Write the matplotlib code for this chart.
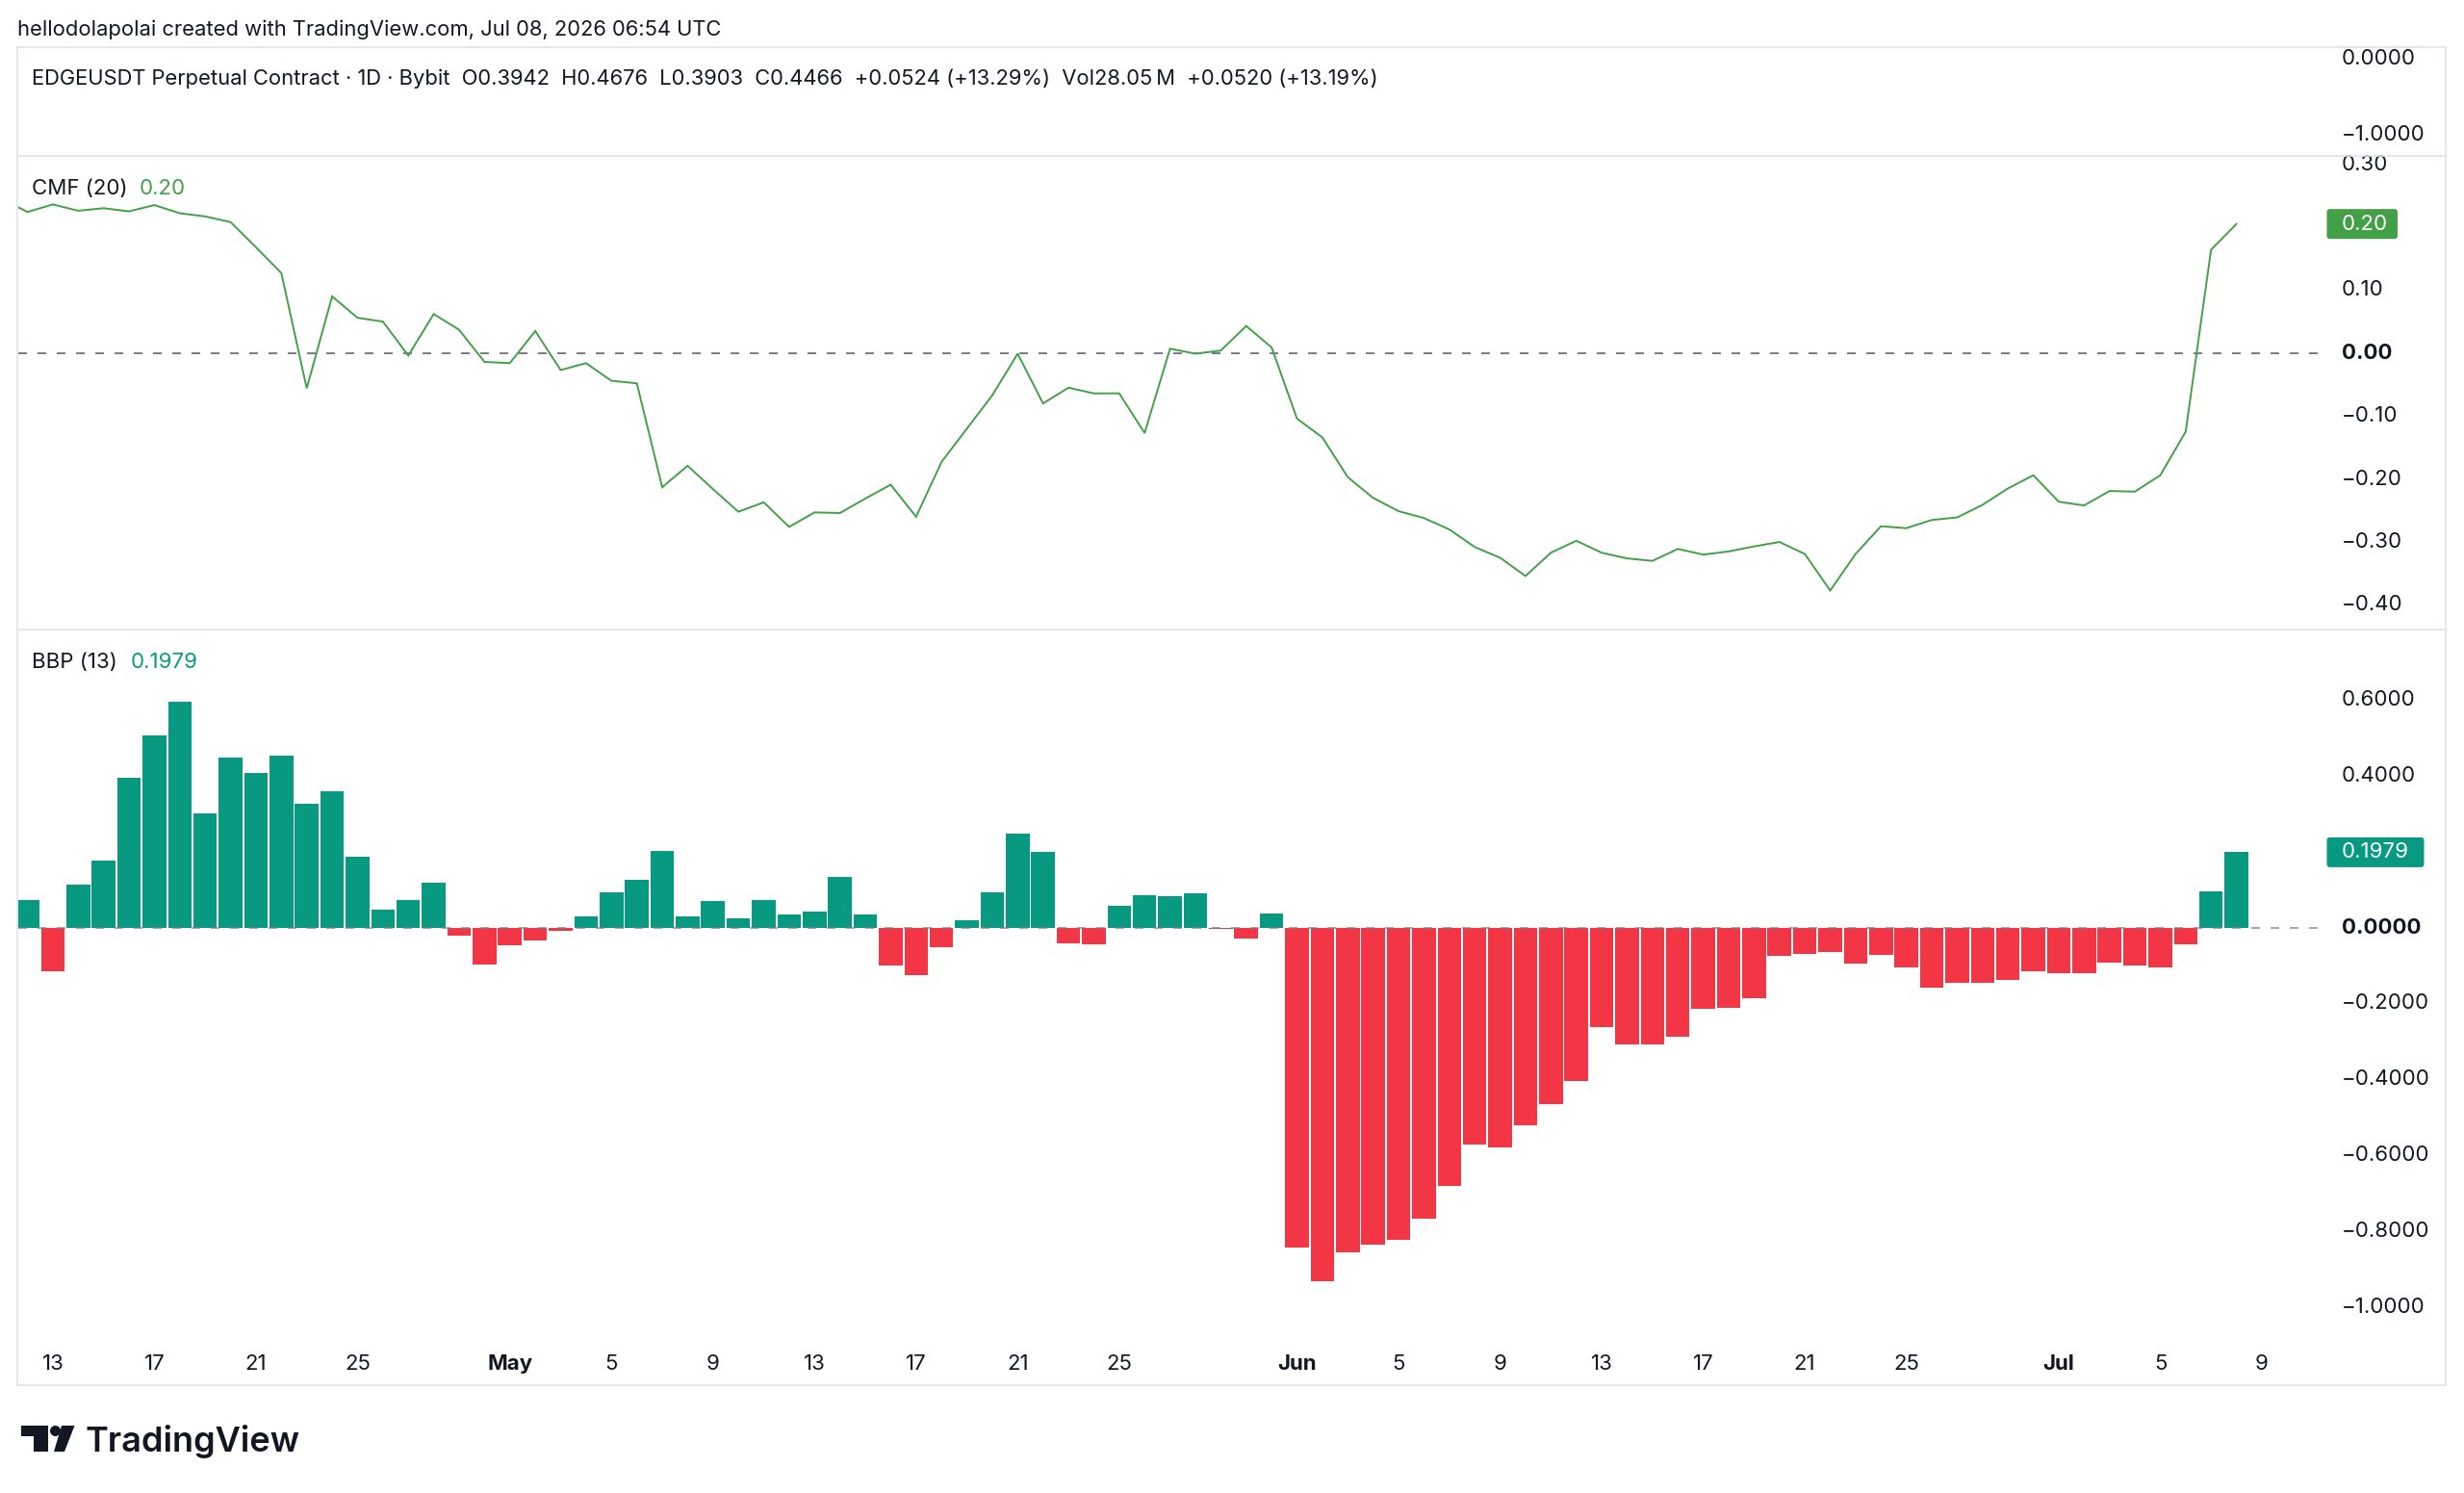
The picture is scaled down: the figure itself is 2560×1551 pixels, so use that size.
import pandas as pd
import matplotlib
matplotlib.use('Agg')
import matplotlib.pyplot as plt
import matplotlib.dates as mdates
import matplotlib.transforms as mtransforms
from matplotlib.patches import Polygon, Circle, FancyBboxPatch
from matplotlib.lines import Line2D

# CMF (20) daily values, Apr 11 - Jul 8 2026
cmf_start = '2026-04-11'
cmf = [0.245, 0.224, 0.236, 0.226, 0.230, 0.225, 0.235, 0.222, 0.217, 0.208,
       0.168, 0.127, -0.056, 0.090, 0.056, 0.050, -0.004, 0.062, 0.037, -0.014,
       -0.016, 0.035, -0.027, -0.016, -0.044, -0.048, -0.213, -0.179, -0.216, -0.252,
       -0.237, -0.276, -0.253, -0.254, -0.231, -0.209, -0.260, -0.173, -0.120, -0.067,
       -0.001, -0.080, -0.055, -0.064, -0.064, -0.127, 0.007, -0.001, 0.004, 0.043,
       0.009, -0.104, -0.134, -0.197, -0.230, -0.251, -0.262, -0.280, -0.308, -0.325,
       -0.354, -0.317, -0.298, -0.317, -0.326, -0.330, -0.311, -0.320, -0.315, -0.307,
       -0.300, -0.319, -0.377, -0.319, -0.275, -0.278, -0.265, -0.261, -0.241, -0.215,
       -0.194, -0.236, -0.242, -0.219, -0.220, -0.194, -0.125, 0.164, 0.205]

# BBP (13) daily values, Apr 12 - Jul 8 2026
bbp_start = '2026-04-12'
bbp = [0.072, -0.114, 0.114, 0.175, 0.393, 0.505, 0.593, 0.299, 0.446, 0.406,
       0.451, 0.325, 0.358, 0.187, 0.048, 0.072, 0.119, -0.021, -0.098, -0.046,
       -0.035, -0.010, 0.030, 0.092, 0.126, 0.202, 0.028, 0.069, 0.023, 0.072,
       0.034, 0.041, 0.133, 0.033, -0.101, -0.125, -0.053, 0.018, 0.092, 0.246,
       0.199, -0.042, -0.045, 0.057, 0.085, 0.082, 0.091, -0.004, -0.030, 0.038,
       -0.842, -0.931, -0.856, -0.834, -0.823, -0.766, -0.680, -0.570, -0.579, -0.520,
       -0.464, -0.404, -0.261, -0.307, -0.309, -0.288, -0.213, -0.211, -0.185, -0.075,
       -0.070, -0.064, -0.095, -0.073, -0.105, -0.159, -0.145, -0.145, -0.138, -0.116,
       -0.120, -0.120, -0.092, -0.099, -0.105, -0.045, 0.095, 0.1979]

tick_dates = ['2026-04-13', '2026-04-17', '2026-04-21', '2026-04-25', '2026-05-01',
              '2026-05-05', '2026-05-09', '2026-05-13', '2026-05-17', '2026-05-21',
              '2026-05-25', '2026-06-01', '2026-06-05', '2026-06-09', '2026-06-13',
              '2026-06-17', '2026-06-21', '2026-06-25', '2026-07-01', '2026-07-05',
              '2026-07-09']
tick_labels = ['13', '17', '21', '25', 'May', '5', '9', '13', '17', '21', '25',
               'Jun', '5', '9', '13', '17', '21', '25', 'Jul', '5', '9']

cmf_ticks = [0.30, 0.10, 0.00, -0.10, -0.20, -0.30, -0.40]
bbp_ticks = [0.6, 0.4, 0.0, -0.2, -0.4, -0.6, -0.8, -1.0]
price_ticks = [0.0, -1.0]

header = ('EDGEUSDT Perpetual Contract \u00b7 1D \u00b7 Bybit  O0.3942  H0.4676  '
          'L0.3903  C0.4466  +0.0524 (+13.29%)  Vol28.05\u2009M  +0.0520 (+13.19%)')
watermark = 'hellodolapolai created with TradingView.com, Jul 08, 2026 06:54 UTC'

TEXT = '#131722'
CMF_GREEN = '#43A047'
BULL = '#089981'
BEAR = '#F23645'
DASH = '#787B86'
BORDER = '#E0E3EB'

plt.rcParams['font.family'] = ['Inter', 'DejaVu Sans']
plt.rcParams['lines.scale_dashes'] = False

W, H = 2560, 1551
fig = plt.figure(figsize=(W / 100, H / 100), dpi=100)
fig.patch.set_facecolor('white')

# pixel coords (origin top-left) -> figure
pix = mtransforms.Affine2D().scale(1 / W, -1 / H).translate(0, 1) + fig.transFigure

x_left, x_right = 19, 2408


def pane(top, bottom):
    ax = fig.add_axes([x_left / W, 1 - bottom / H, (x_right - x_left) / W, (bottom - top) / H])
    ax.set_facecolor('none')
    for s in ax.spines.values():
        s.set_visible(False)
    ax.set_xticks([])
    ax.set_yticks([])
    return ax


ax_p = pane(49, 162)
ax_c = pane(162, 654)
ax_b = pane(654, 1395)

cmf_dates = mdates.date2num(pd.date_range(cmf_start, periods=len(cmf), freq='D'))
bbp_dates = mdates.date2num(pd.date_range(bbp_start, periods=len(bbp), freq='D'))
x0 = bbp_dates[0]
for ax in (ax_p, ax_c, ax_b):
    ax.set_xlim(x0 - 0.36, x0 + 90.2)

ax_p.set_ylim(-1.269, 0.144)
ax_c.set_ylim(-0.439, 0.313)
ax_b.set_ylim(-1.093, 0.784)

# CMF pane
ax_c.axhline(0, color=DASH, lw=1.4, dashes=(6.5, 7.9))
ax_c.plot(cmf_dates, cmf, color=CMF_GREEN, lw=1.4, solid_joinstyle='miter')

# BBP pane
colors = [BULL if v >= 0 else BEAR for v in bbp]
ax_b.bar(bbp_dates, bbp, width=0.93, color=colors, linewidth=0)
ax_b.axhline(0, color=DASH, lw=1.2, dashes=(6.5, 7.9), alpha=0.8)

# right price scales
lab_x = 2433
for ax, ticks, fmt in ((ax_p, price_ticks, '{:.4f}'), (ax_c, cmf_ticks, '{:.2f}'),
                       (ax_b, bbp_ticks, '{:.4f}')):
    tr = mtransforms.blended_transform_factory(pix, ax.transData)
    for t in ticks:
        s = fmt.format(t).replace('-', '\u2212')
        bold = (t == 0 and ax is not ax_p)
        ax.text(lab_x, t, s, transform=tr, ha='left', va='center', fontsize=16,
                color=TEXT, fontweight='bold' if bold else 'normal', clip_on=False)


def value_box(ax, v, s, color, width):
    y = H - ax.transData.transform((x0, v))[1]
    box = FancyBboxPatch((2417.5, y - 15.5), width, 31, boxstyle='round,pad=0,rounding_size=3',
                         transform=pix, facecolor=color, edgecolor='none')
    fig.add_artist(box)
    fig.text(lab_x, y, s, transform=pix, ha='left', va='center', fontsize=16, color='white')


value_box(ax_c, cmf[-1], '0.20', CMF_GREEN, 73.5)
value_box(ax_b, bbp[-1], '0.1979', BULL, 101)

# time axis
tr_x = mtransforms.blended_transform_factory(ax_b.transData, pix)
for d, lab in zip(tick_dates, tick_labels):
    ax_b.text(mdates.date2num(pd.Timestamp(d)), 1417, lab, transform=tr_x, ha='center',
              va='center', fontsize=16, color=TEXT, clip_on=False,
              fontweight='bold' if lab.isalpha() else 'normal')

# frame and pane separators
for y in (49, 162, 654, 1439):
    fig.add_artist(Line2D([18, 2541], [y, y], transform=pix, color=BORDER, lw=1.2))
for x in (18, 2541):
    fig.add_artist(Line2D([x, x], [49, 1439], transform=pix, color=BORDER, lw=1.2))

# titles
fig.text(18, 31, watermark, transform=pix, ha='left', va='center', fontsize=15.8, color=TEXT)
fig.text(33, 82, header, transform=pix, ha='left', va='center', fontsize=15.8, color=TEXT)
fig.text(33, 196, 'CMF (20)', transform=pix, ha='left', va='center', fontsize=16, color=TEXT)
fig.text(145, 196, '0.20', transform=pix, ha='left', va='center', fontsize=16, color=CMF_GREEN)
fig.text(33, 688, 'BBP (13)', transform=pix, ha='left', va='center', fontsize=16, color=TEXT)
fig.text(136, 688, '0.1979', transform=pix, ha='left', va='center', fontsize=16, color=BULL)

# TradingView logo
logo = '#131722'
fig.add_artist(Polygon([[22, 1481], [50, 1481], [50, 1508], [35, 1508], [35, 1492], [22, 1492]],
                       closed=True, transform=pix, facecolor=logo, edgecolor='none'))
fig.add_artist(Circle((57.5, 1486.5), 5.5, transform=pix, facecolor=logo, edgecolor='none'))
fig.add_artist(Polygon([[64, 1481], [77.5, 1481], [67, 1508], [56, 1508]],
                       closed=True, transform=pix, facecolor=logo, edgecolor='none'))
fig.text(89, 1508, 'TradingView', transform=pix, ha='left', va='baseline', fontsize=26,
         fontweight='semibold', color=logo)

fig.savefig('out.png', dpi=100, facecolor='white')
